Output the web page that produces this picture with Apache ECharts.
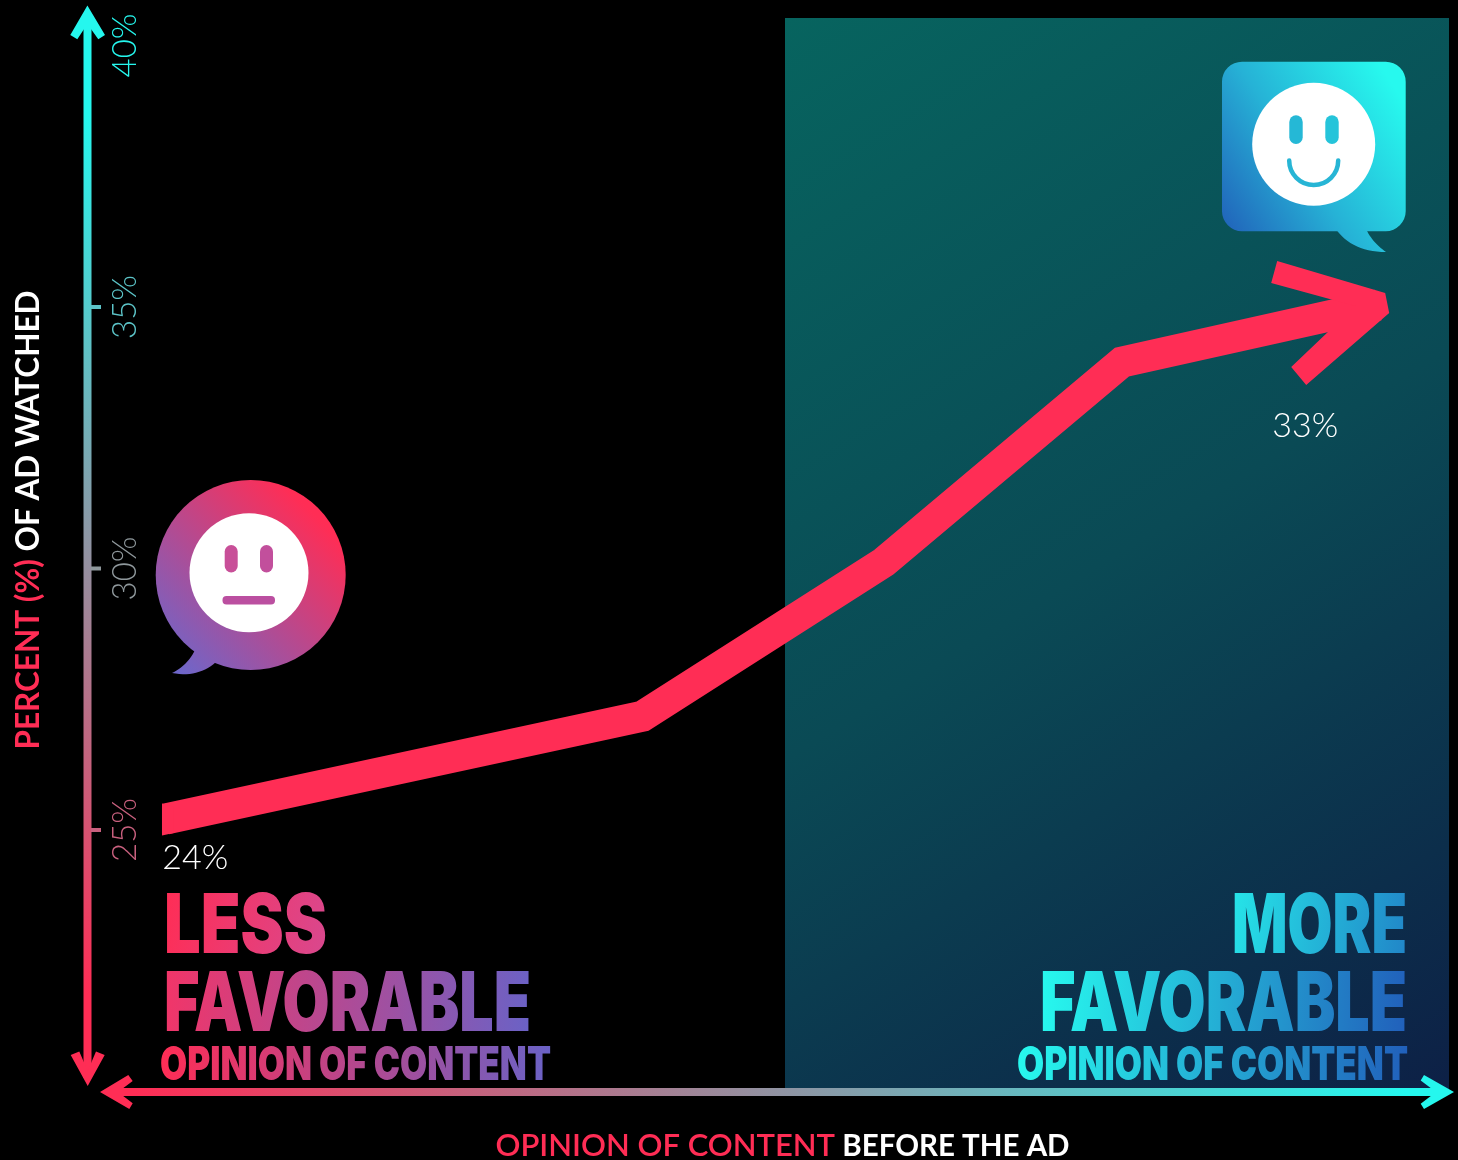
<!DOCTYPE html>
<html>
<head>
<meta charset="utf-8">
<style>html,body{margin:0;padding:0;background:#000}#c{width:1458px;height:1160px}</style>
<script src="https://cdn.jsdelivr.net/npm/echarts@6/dist/echarts.min.js"></script>
</head>
<body>
<div id="c"></div>
<script>
// Watch-through versus prior opinion of the content
const opinionScores = [0.3, 39.2, 58.9, 78.3, 99.2];
const percentWatched = [24, 25.8, 28.5, 32, 33];
const labelledPoints = [0, 4];
const axisTicks = [25, 30, 35, 40];
const tickColors = { 25: '#c8607e', 30: '#8f989c', 35: '#5cc4c8', 40: '#25f7ee' };
const yTitle = ['PERCENT (%)', ' OF AD WATCHED'];
const xTitle = ['OPINION OF CONTENT', ' BEFORE THE AD'];

const PINK = '#ff2d55', CYAN = '#25f7ee', WHITE = '#ffffff';
const TEXT_FONT = 'Lato';
const DISPLAY_FONT = 'Inter';

// zrender only paints text in flat colours, so a headline carries a unique flat
// colour and the canvas swaps in that headline's gradient while it draws the glyphs.
const textGradients = {};
const nativeFillText = CanvasRenderingContext2D.prototype.fillText;
CanvasRenderingContext2D.prototype.fillText = function (...args) {
  const flat = this.fillStyle;
  const gradient = textGradients[flat];
  if (gradient) this.fillStyle = gradient;
  nativeFillText.apply(this, args);
  if (gradient) this.fillStyle = flat;
};

const chart = echarts.init(document.getElementById('c'), null, { renderer: 'canvas' });

const grad = (x, y, x2, y2, stops, global) => ({
  type: 'linear', x, y, x2, y2, global: !!global,
  colorStops: stops.map(([offset, color]) => ({ offset, color }))
});

// Sample a quadratic curve into polygon vertices
function quad(p0, c, p1, n = 14) {
  const pts = [];
  for (let i = 0; i <= n; i++) {
    const t = i / n, u = 1 - t;
    pts.push([u*u*p0[0] + 2*u*t*c[0] + t*t*p1[0], u*u*p0[1] + 2*u*t*c[1] + t*t*p1[1]]);
  }
  return pts;
}

// Headline text squeezed to its column width
const measure = document.createElement('canvas').getContext('2d');
function displayText(text, flat, left, right, capMiddle, size, from, to, c0, c1) {
  const font = `900 ${size}px ${DISPLAY_FONT}`;
  measure.font = font;
  const sx = (right - left) / measure.measureText(text).width;
  const g = measure.createLinearGradient(
    (from[0] - left) / sx, from[1] - capMiddle, (to[0] - left) / sx, to[1] - capMiddle);
  g.addColorStop(0, c0);
  g.addColorStop(1, c1);
  textGradients[flat] = g;
  return {
    type: 'text', x: left, y: capMiddle, scaleX: sx, z: 5,
    style: { text, font, fill: flat, textAlign: 'left', verticalAlign: 'middle' }
  };
}

const arrowPoly = pts => ({ type: 'polygon', shape: { points: pts } });
const neutralFill = grad(322, 522, 176, 668, [[0, '#ff2d55'], [1, '#6e66c9']], true);
const smileFill = grad(1408, 108, 1226, 226, [[0, '#27f9ee'], [0.55, '#26b2d6'], [1, '#2166bb']], true);
const eye = (x, y, w, h, fill) => ({ type: 'rect', shape: { x, y, width: w, height: h, r: w / 2 }, style: { fill }, z: 4 });

const graphic = [
  // Favorable half of the plot
  { type: 'rect', shape: { x: 785, y: 18, width: 664, height: 1072 }, z: 0,
    style: { fill: grad(0, 0, 1, 1, [[0, '#07645f'], [0.5, '#0a4a55'], [1, '#0d2046']]) } },

  // Axis shafts
  { type: 'rect', shape: { x: 83.5, y: 20, width: 8, height: 1058 }, z: 2,
    style: { fill: grad(0, 0, 0, 1, [[0, CYAN], [0.09, CYAN], [0.92, PINK], [1, PINK]]) } },
  { type: 'rect', shape: { x: 108, y: 1088, width: 1338, height: 8 }, z: 2,
    style: { fill: grad(0, 0, 1, 0, [[0, PINK], [0.02, PINK], [0.97, CYAN], [1, CYAN]]) } },

  // Arrowheads
  { ...arrowPoly([[87.4,5.5],[105,35],[98.3,39.3],[87.4,24],[77.3,39.3],[70.3,35]]), style: { fill: CYAN }, z: 3 },
  { ...arrowPoly([[87.7,1086],[104.7,1055],[96,1051.5],[87.7,1071],[79.3,1051.5],[70.7,1055]]), style: { fill: PINK }, z: 3 },
  { ...arrowPoly([[100,1092],[128.3,1075],[132.7,1081],[118,1092],[132.7,1103.3],[129.3,1109]]), style: { fill: PINK }, z: 3 },
  { ...arrowPoly([[1454,1092],[1424,1075],[1420.7,1080.5],[1436,1092],[1420.7,1103.8],[1424,1109]]), style: { fill: CYAN }, z: 3 },

  // Neutral speech bubble
  { type: 'circle', shape: { cx: 250.7, cy: 575, r: 95 }, style: { fill: neutralFill }, z: 3 },
  { type: 'polygon', z: 3, style: { fill: neutralFill },
    shape: { points: [...quad([195,650],[187,666],[172,673]), ...quad([172,673],[198,678],[216,662])] } },
  { type: 'circle', shape: { cx: 249, cy: 572.7, r: 59.5 }, style: { fill: WHITE }, z: 4 },
  eye(224.7, 545, 13, 27.5, '#c84f98'), eye(260, 545, 13, 27.5, '#c24f9c'),
  { type: 'rect', shape: { x: 222.5, y: 596, width: 52.5, height: 8.5, r: 4 }, style: { fill: '#bb4fa0' }, z: 4 },

  // Happy speech bubble
  { type: 'rect', shape: { x: 1222, y: 61.7, width: 183.7, height: 169.5, r: 20 }, style: { fill: smileFill }, z: 3 },
  { type: 'polygon', z: 3, style: { fill: smileFill },
    shape: { points: [...quad([1336.5,230],[1353,252],[1386,252]), ...quad([1386,252],[1373,243],[1366.5,230])] } },
  { type: 'circle', shape: { cx: 1313.7, cy: 144.3, r: 61.5 }, style: { fill: WHITE }, z: 4 },
  eye(1289.3, 115.3, 13.4, 28.7, '#25b8d6'), eye(1325.3, 115.3, 13.4, 28.7, '#25c4da'),
  { type: 'arc', shape: { cx: 1313.7, cy: 160.5, r: 24.5, startAngle: 0, endAngle: Math.PI, clockwise: true }, z: 4,
    style: { stroke: '#27b5d5', lineWidth: 4.5, fill: 'none', lineCap: 'round' } },

  // Headline text on either side
  displayText('LESS', '#ec3a70', 164, 327, 928.5, 82, [164,893], [326,953], '#ff2d55', '#d9488e'),
  displayText('FAVORABLE', '#b04c98', 164, 531, 1006.5, 82, [164,985], [531,1031], '#f23568', '#6a62c6'),
  displayText('OPINION OF CONTENT', '#b04c99', 160, 551, 1065.5, 47, [160,1062], [551,1062], '#ff2d55', '#6a62c6'),
  displayText('MORE', '#24b4d8', 1232, 1407, 928.5, 82, [1232,893], [1406,953], '#26e4e8', '#2186c8'),
  displayText('FAVORABLE', '#24a8d4', 1040, 1407, 1006.5, 82, [1040,985], [1406,1031], '#27f9ee', '#2160bb'),
  displayText('OPINION OF CONTENT', '#24a8d5', 1017, 1408, 1065.5, 47, [1017,1062], [1407,1062], '#27f9ee', '#2160bb'),

  // Axis titles
  { type: 'text', x: 29, y: 520, rotation: Math.PI / 2, z: 5,
    style: { text: `{a|${yTitle[0]}}{b|${yTitle[1]}}`, textAlign: 'center', verticalAlign: 'middle',
      rich: {
        a: { fill: PINK, font: `700 31.5px ${TEXT_FONT}` },
        b: { fill: WHITE, font: `700 31.5px ${TEXT_FONT}` }
      } } },
  { type: 'text', x: 782.5, y: 1146, z: 5,
    style: { text: `{a|${xTitle[0]}}{b|${xTitle[1]}}`, textAlign: 'center', verticalAlign: 'middle',
      rich: {
        a: { fill: PINK, font: `600 31px ${TEXT_FONT}` },
        b: { fill: WHITE, font: `700 29.5px ${TEXT_FONT}` }
      } } }
];

chart.setOption({
  backgroundColor: '#000',
  animation: false,
  graphic,
  grid: { left: 162, width: 1226, top: 45.5, height: 784.5, containLabel: false },
  xAxis: { type: 'value', min: 0, max: 100, show: false },
  yAxis: [
    { // the printed percent scale beside the shaft
      type: 'value', min: 25, max: 40, interval: 5, position: 'left', offset: 74.5,
      splitLine: { show: false }, axisLine: { show: false }, axisTick: { show: false },
      axisLabel: {
        inside: true, rotate: 90, margin: 38,
        fontFamily: TEXT_FONT, fontWeight: 300, fontSize: 33,
        color: v => tickColors[v], formatter: v => v + '%',
        verticalAlign: 'middle', align: 'center'
      }
    },
    { // the line has its own hidden scale so its stated values stay true
      type: 'value', min: 23.807, max: 37.544, show: false, splitLine: { show: false }
    }
  ],
  series: [
    { // small ticks on the shaft, coloured to follow its gradient
      type: 'custom', silent: true, yAxisIndex: 0, clip: false, z: 4,
      data: axisTicks.slice(0, 3).map(v => [0, v]),
      encode: { x: 0, y: 1 },
      renderItem: (params, api) => {
        const y = api.coord([0, api.value(1)])[1];
        return { type: 'rect', shape: { x: 91, y: y - 2, width: 10, height: 4 }, style: { fill: tickColors[api.value(1)] } };
      }
    },
    {
      type: 'line', yAxisIndex: 1, clip: false, z: 6, silent: true,
      data: opinionScores.map((x, i) => [x, percentWatched[i]]),
      symbol: 'none', smooth: false,
      lineStyle: { color: PINK, width: 31, join: 'miter', cap: 'butt', miterLimit: 10 }
    },
    { // chevron on the last point and value labels on the two ends
      type: 'custom', yAxisIndex: 1, clip: false, z: 7, silent: true,
      data: labelledPoints.map(i => [opinionScores[i], percentWatched[i], i]),
      encode: { x: 0, y: 1 },
      renderItem: (params, api) => {
        const [px, py] = api.coord([api.value(0), api.value(1)]);
        const last = api.value(2) === opinionScores.length - 1;
        const children = [{
          type: 'text', x: px + (last ? -73 : 29.5), y: py + (last ? 121 : 39),
          style: { text: api.value(1) + '%', fill: WHITE, font: `300 34px ${TEXT_FONT}`, textAlign: 'center', verticalAlign: 'middle' }
        }];
        if (last) {
          const head = [[-101,-44],[7,-12],[11,8],[-72,80],[-87,62],[-23,1],[-107,-22]];
          children.push({ type: 'polygon', shape: { points: head.map(([dx, dy]) => [px + dx, py + dy]) }, style: { fill: PINK } });
        } else {
          // squares off the start of the band
          const cap = [[-3.7,-15.4],[-3.7,16.5],[8,14],[8,-12]];
          children.push({ type: 'polygon', shape: { points: cap.map(([dx, dy]) => [px + dx, py + dy]) }, style: { fill: PINK } });
        }
        return { type: 'group', children };
      }
    }
  ]
});
</script>
</body>
</html>
